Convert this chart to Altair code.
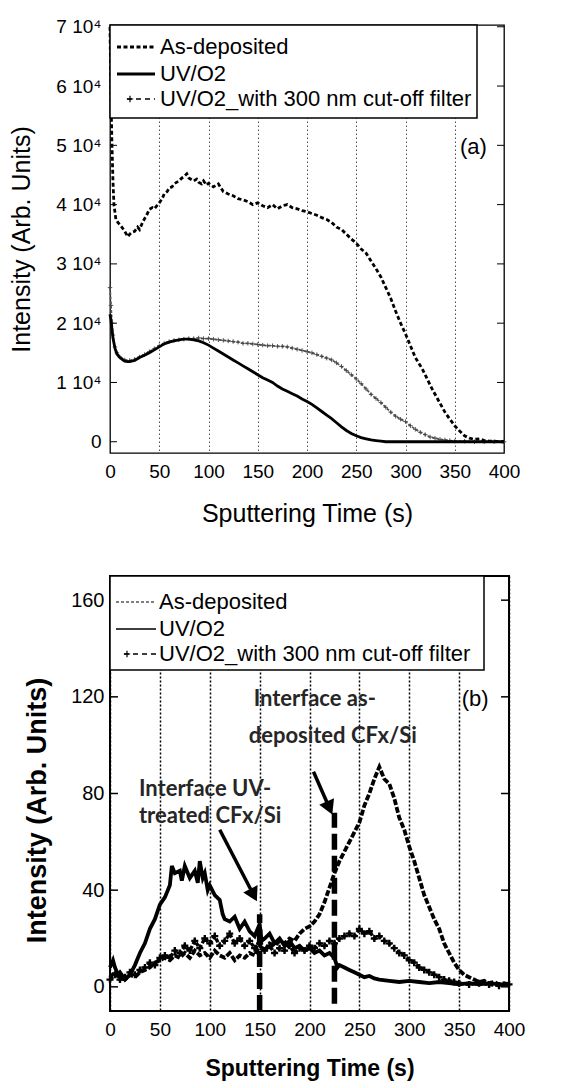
import math
import altair as alt
import pandas as pd

# ---------------- data ----------------
SERIES = ["As-deposited", "UV/O2", "UV/O2_with 300 nm cut-off filter"]
X_TICKS = [0, 50, 100, 150, 200, 250, 300, 350, 400]
A_Y_TICKS = [0, 1, 2, 3, 4, 5, 6, 7]          # units of 10^4
B_Y_TICKS = [0, 40, 80, 120, 160]

# panel (a): (time s, intensity x 10^4)
A_DEP = [(0,7.0),(1,5.8),(2,5.0),(3,4.4),(4,4.0),(6,3.75),(8,3.7),(10,3.66),(12,3.62),(15,3.55),(18,3.46),
         (20,3.5),(22,3.53),(25,3.55),(28,3.62),(30,3.58),(33,3.7),(35,3.76),(38,3.85),(40,3.92),(43,3.95),
         (45,3.93),(48,3.99),(50,4.03),(53,4.1),(55,4.18),(58,4.22),(60,4.28),(63,4.3),(65,4.35),(68,4.38),
         (70,4.4),(73,4.45),(75,4.47),(78,4.52),(80,4.45),(83,4.42),(85,4.4),(88,4.43),(90,4.38),(93,4.35),
         (95,4.4),(98,4.33),(100,4.36),(105,4.3),(110,4.35),(115,4.22),(120,4.18),(125,4.15),(130,4.1),
         (135,4.08),(140,4.05),(145,4.0),(150,4.03),(155,3.98),(160,3.95),(165,4.0),(170,3.93),(175,3.98),
         (180,4.0),(185,3.95),(190,3.93),(195,3.9),(200,3.88),(205,3.85),(210,3.82),(215,3.78),(220,3.75),
         (225,3.7),(230,3.62),(235,3.58),(240,3.5),(245,3.42),(250,3.35),(255,3.25),(260,3.18),(265,3.05),
         (270,2.92),(275,2.78),(280,2.6),(285,2.42),(290,2.2),(295,2.0),(300,1.82),(305,1.62),(310,1.42),
         (317,1.23),(327,0.89),(335,0.65),(340,0.5),(345,0.38),(350,0.27),(355,0.18),(360,0.1),(365,0.06),
         (370,0.04),(375,0.05),(380,0.02),(385,0.01),(390,0.01),(395,0.0),(400,0.0)]
A_UV = [(0,2.15),(1,2.05),(2,1.9),(3,1.75),(5,1.58),(7,1.48),(10,1.42),(13,1.38),(15,1.36),(18,1.35),
        (20,1.35),(25,1.37),(30,1.42),(35,1.46),(40,1.5),(45,1.55),(50,1.6),(55,1.65),(60,1.68),(65,1.7),
        (70,1.72),(75,1.73),(80,1.73),(85,1.72),(90,1.7),(95,1.67),(100,1.63),(105,1.58),(110,1.53),
        (115,1.48),(120,1.43),(125,1.38),(130,1.33),(135,1.28),(140,1.23),(145,1.18),(150,1.13),(155,1.08),
        (160,1.04),(165,1.0),(170,0.94),(175,0.89),(180,0.85),(185,0.81),(190,0.77),(195,0.72),(200,0.68),
        (205,0.63),(210,0.57),(215,0.51),(220,0.45),(225,0.39),(230,0.32),(235,0.25),(240,0.19),(245,0.14),
        (250,0.1),(255,0.07),(260,0.05),(265,0.03),(270,0.02),(275,0.01),(280,0.0),(300,0.0),(320,0.0),
        (340,0.0),(360,0.0),(380,0.0),(400,0.0)]
A_FIL = [(0,2.6),(1,2.3),(2,2.0),(3,1.8),(5,1.6),(7,1.5),(10,1.43),(15,1.38),(20,1.37),(25,1.39),(30,1.43),
         (35,1.47),(40,1.52),(45,1.57),(50,1.62),(55,1.66),(60,1.69),(65,1.71),(70,1.72),(75,1.73),(80,1.74),
         (85,1.74),(90,1.75),(95,1.74),(100,1.74),(105,1.73),(110,1.72),(115,1.71),(120,1.7),(125,1.69),
         (130,1.68),(135,1.66),(140,1.66),(145,1.65),(150,1.64),(155,1.63),(160,1.62),(165,1.62),(170,1.61),
         (175,1.61),(180,1.6),(185,1.58),(190,1.56),(195,1.54),(200,1.52),(205,1.5),(210,1.47),(215,1.44),
         (220,1.41),(225,1.38),(230,1.33),(235,1.27),(240,1.2),(245,1.13),(250,1.06),(255,0.98),(260,0.89),
         (265,0.8),(270,0.73),(275,0.66),(280,0.58),(285,0.5),(290,0.43),(295,0.38),(300,0.34),(305,0.27),
         (310,0.21),(315,0.16),(320,0.12),(325,0.08),(330,0.06),(335,0.04),(340,0.03),(345,0.02),(350,0.01),
         (360,0.01),(370,0.0),(380,0.0),(390,0.0),(400,0.0)]

# panel (b): (time s, intensity)
B_DEP = [(0,4),(5,6),(10,4),(15,3),(20,5),(25,4),(30,6),(35,7),(40,8),(45,10),(50,11),(55,12),(60,11),(65,13),
         (70,12),(75,14),(80,12),(85,15),(90,13),(95,14),(100,12),(105,15),(110,13),(115,12),(120,14),(125,11),
         (130,13),(135,12),(140,14),(145,13),(150,17),(155,15),(160,18),(165,17),(170,19),(175,18),(180,20),
         (185,19),(190,22),(195,24),(200,25),(205,27),(210,30),(215,35),(220,41),(225,47),(230,52),(235,56),
         (240,60),(245,64),(250,68),(255,75),(260,80),(265,86),(270,91),(273,88),(275,86),(280,84),(285,78),
         (290,70),(295,65),(300,58),(305,52),(310,45),(315,38),(320,33),(325,28),(330,24),(335,18),(340,14),
         (345,10),(350,7),(355,5),(360,4),(365,3),(370,2),(375,2.5),(380,1.5),(385,2),(390,1),(395,1.5),(400,1)]
B_UV = [(0,8),(3,11),(5,8),(8,5),(10,6),(15,3),(20,5),(25,9),(30,14),(35,18),(40,24),(45,28),(50,34),(55,37),
        (60,42),(62,50),(65,47),(70,48),(72,44),(75,50),(78,47),(80,45),(85,48),(88,43),(90,52),(93,45),(95,47),
        (98,40),(100,42),(105,38),(110,36),(113,30),(115,28),(120,27),(125,29),(130,24),(135,27),(140,23),
        (145,21),(150,26),(152,19),(155,20),(160,22),(165,18),(170,20),(175,17),(180,19),(185,16),(190,17),
        (195,15),(200,16),(205,14),(210,15),(215,13),(220,14),(225,12),(228,8),(230,9),(235,8),(240,7),(245,6),
        (250,5),(255,4),(260,4.5),(265,3.5),(270,3),(280,2.5),(290,2),(300,2.5),(310,2),(320,1.5),(330,2),
        (340,1.5),(350,1),(360,1.5),(370,1),(380,1.5),(390,1),(400,1)]
B_FIL = [(0,3),(5,5),(10,3),(15,4),(20,6),(25,5),(30,7),(35,8),(40,10),(45,9),(50,12),(55,13),(60,12),(65,15),
         (70,14),(75,17),(80,15),(85,19),(90,16),(95,20),(100,18),(105,21),(110,17),(115,19),(120,22),(125,18),
         (130,20),(135,17),(140,19),(145,16),(150,18),(155,15),(160,17),(165,14),(170,16),(175,15),(180,17),
         (185,14),(190,16),(195,15),(200,17),(205,16),(210,18),(215,17),(220,19),(225,18),(230,20),(235,21),
         (240,22),(245,21),(250,24),(255,22),(260,23),(265,20),(270,21),(275,19),(280,18),(285,16),(290,14),
         (295,13),(300,11),(305,10),(310,8),(315,7),(320,6),(325,5),(330,4),(335,3),(340,2.5),(345,2),(350,1.5),
         (360,1),(370,1.5),(380,1),(390,0.5),(400,1)]

# panel (b) annotations
B_IFACE_T = [150, 225]
B_IFACE_LO = [-10, -7]
B_IFACE_HI = [30, 72]
B_ARROW_X0 = [204, 110]
B_ARROW_Y0 = [89, 65]
B_ARROW_X1 = [220, 144]
B_ARROW_Y1 = [74, 38]
B_NOTE_TEXT = ["Interface as-", "deposited CFx/Si", "Interface UV-", "treated CFx/Si"]
B_NOTE_X = [144, 139, 29, 29]
B_NOTE_Y = [119, 104, 82, 70.5]
PANEL_LABELS = ["(a)", "(b)"]
PANEL_LABEL_X = [369, 366]
PANEL_LABEL_Y = [4.98, 119]

# ---------------- layout / style ----------------
WA, HA = 394, 428
WB, HB = 399, 435
A_YDOM = [-0.19, 7.03]
B_YDOM = [-10, 170]
FONT = "Liberation Sans"


def sdf(pairs):
    return pd.DataFrame({"t": [p[0] for p in pairs], "v": [p[1] for p in pairs]})


def legend(w, h, rows, x0, x1, fx0, tx, styles, fs):
    out = [alt.Chart(pd.DataFrame({"k": [0]})).mark_rect(
        fill="white", stroke="black", strokeWidth=1.5).encode(
        x=alt.value(0), x2=alt.value(w), y=alt.value(0), y2=alt.value(h))]
    for i, name in enumerate(SERIES):
        st = styles[i]
        start = fx0 if i == 2 else x0
        out.append(alt.Chart(pd.DataFrame({"k": [0]})).mark_rule(
            color="black", strokeWidth=st[0], strokeDash=st[1]).encode(
            x=alt.value(start), x2=alt.value(x1), y=alt.value(rows[i])))
        if i == 2:
            out.append(alt.Chart(pd.DataFrame({"k": [0]})).mark_point(
                shape="M-1,0L1,0M0,-1L0,1", filled=False, size=40, color="black", strokeWidth=1.2,
                opacity=1).encode(x=alt.value(start + 3), y=alt.value(rows[i])))
        out.append(alt.Chart(pd.DataFrame({"label": [name]})).mark_text(
            align="left", baseline="middle", fontSize=fs, font=FONT, color="black").encode(
            x=alt.value(tx), y=alt.value(rows[i]), text="label:N"))
    return out


# ---------------- panel (a) ----------------
xa = alt.X("t:Q", scale=alt.Scale(domain=[0, 400], nice=False, zero=False),
           axis=alt.Axis(values=X_TICKS, title="Sputtering Time (s)", grid=True, gridDash=[1.5, 2.5],
                         gridColor="#222", gridWidth=0.8, ticks=False, domain=False, labelFontSize=19,
                         labelFlush=False, labelOverlap=False,
                         labelPadding=9, titleFontSize=25, titlePadding=20, labelFont=FONT, titleFont=FONT,
                         titleFontWeight="normal", labelColor="black", titleColor="black"))
ya = alt.Y("v:Q", scale=alt.Scale(domain=A_YDOM, nice=False, zero=False),
           axis=alt.Axis(values=A_Y_TICKS, labelExpr="datum.value == 0 ? '0' : datum.value + ' 10\u2074'",
                         title="Intensity (Arb. Units)", grid=False, ticks=False, domain=False,
                         labelFontSize=19, labelPadding=9, titleFontSize=25, titlePadding=21,
                         labelFont=FONT, titleFont=FONT, titleFontWeight="normal",
                         labelColor="black", titleColor="black"))

a_layers = []
a_layers.append(alt.Chart(sdf(A_FIL)).mark_line(color="#555", strokeWidth=1.8, strokeDash=[3, 1.5]).encode(x=xa, y=ya))
a_layers.append(alt.Chart(sdf(A_FIL)).mark_point(shape="M-1,0L1,0M0,-1L0,1", filled=False, size=20,
                                               color="#444", strokeWidth=0.9, opacity=1).encode(x=xa, y=ya))
a_layers.append(alt.Chart(sdf(A_UV)).mark_line(color="black", strokeWidth=2.8).encode(x=xa, y=ya))
a_layers.append(alt.Chart(sdf(A_DEP)).mark_line(color="black", strokeWidth=2.8, strokeDash=[4, 2.5]).encode(x=xa, y=ya))
tick_a = pd.DataFrame({"v": A_Y_TICKS})
a_layers.append(alt.Chart(tick_a).mark_rule(color="black", strokeWidth=1).encode(y=ya, x=alt.value(0), x2=alt.value(7)))
a_layers.append(alt.Chart(tick_a).mark_rule(color="black", strokeWidth=1).encode(y=ya, x=alt.value(WA - 7), x2=alt.value(WA)))
a_layers.append(alt.Chart(pd.DataFrame({"t": [PANEL_LABEL_X[0]], "v": [PANEL_LABEL_Y[0]], "l": [PANEL_LABELS[0]]}))
                .mark_text(fontSize=22, font=FONT, color="black").encode(x=xa, y=ya, text="l:N"))
a_layers += legend(367, 93, [22, 49, 74], 7, 45, 17, 50, [(2.8, [4, 2.5]), (2.8, [1, 0]), (1.5, [5, 4])], 22)

chart_a = alt.layer(*a_layers).properties(width=WA, height=HA,
                                          view=alt.ViewBackground(stroke="black", strokeWidth=1.3))

# ---------------- panel (b) ----------------
xb = alt.X("t:Q", scale=alt.Scale(domain=[0, 400], nice=False, zero=False),
           axis=alt.Axis(values=X_TICKS, title="Sputtering Time (s)", grid=True, gridDash=[2, 2],
                         gridColor="black", gridWidth=1.5, ticks=False, domain=False, labelFontSize=19,
                         labelFlush=False, labelOverlap=False,
                         labelPadding=9, titleFontSize=23, titlePadding=18, labelFont=FONT, titleFont=FONT,
                         titleFontWeight="bold", labelColor="black", titleColor="black"))
yb = alt.Y("v:Q", scale=alt.Scale(domain=B_YDOM, nice=False, zero=False),
           axis=alt.Axis(values=B_Y_TICKS, title="Intensity (Arb. Units)", grid=False, ticks=False, domain=False,
                         labelFontSize=20, labelPadding=6, titleFontSize=27, titlePadding=19,
                         labelFont=FONT, titleFont=FONT, titleFontWeight="bold", titleY=234,
                         labelColor="black", titleColor="black"))

b_layers = []
b_layers.append(alt.Chart(sdf(B_FIL)).mark_line(color="black", strokeWidth=3.4, strokeDash=[4, 2]).encode(x=xb, y=yb))
b_layers.append(alt.Chart(sdf(B_FIL)).mark_point(shape="M-1,0L1,0M0,-1L0,1", filled=False, size=50,
                                               color="black", strokeWidth=2.4, opacity=1).encode(x=xb, y=yb))
b_layers.append(alt.Chart(sdf(B_UV)).mark_line(color="black", strokeWidth=3.8).encode(x=xb, y=yb))
b_layers.append(alt.Chart(sdf(B_DEP)).mark_line(color="black", strokeWidth=3.8, strokeDash=[6, 2]).encode(x=xb, y=yb))

iface = pd.DataFrame({"t": B_IFACE_T, "v": B_IFACE_LO, "v2": B_IFACE_HI})
b_layers.append(alt.Chart(iface).mark_rule(color="black", strokeWidth=5.5, strokeDash=[16, 6]).encode(
    x=xb, y=yb, y2="v2:Q"))

arrows = pd.DataFrame({"t": B_ARROW_X0, "v": B_ARROW_Y0, "t2": B_ARROW_X1, "v2": B_ARROW_Y1})
b_layers.append(alt.Chart(arrows).mark_rule(color="black", strokeWidth=3.5).encode(
    x=xb, y=yb, x2="t2:Q", y2="v2:Q"))
pxx = WB / 400.0
pxy = HB / (B_YDOM[1] - B_YDOM[0])
for i in range(len(B_ARROW_X0)):
    dx = (B_ARROW_X1[i] - B_ARROW_X0[i]) * pxx
    dy = -(B_ARROW_Y1[i] - B_ARROW_Y0[i]) * pxy
    ang = math.degrees(math.atan2(-dx, dy)) % 360
    head = pd.DataFrame({"t": [B_ARROW_X1[i]], "v": [B_ARROW_Y1[i]]})
    b_layers.append(alt.Chart(head).mark_point(shape="triangle-down", filled=True, size=260, color="black",
                                               opacity=1, angle=ang).encode(x=xb, y=yb))

notes = pd.DataFrame({"t": B_NOTE_X, "v": B_NOTE_Y, "txt": B_NOTE_TEXT})
b_layers.append(alt.Chart(notes).mark_text(align="left", baseline="middle", fontSize=22, font="Lato",
                                           fontWeight="bold", color="#262626").encode(x=xb, y=yb, text="txt:N"))
tick_b = pd.DataFrame({"v": B_Y_TICKS})
b_layers.append(alt.Chart(tick_b).mark_rule(color="black", strokeWidth=1.5).encode(y=yb, x=alt.value(0), x2=alt.value(8)))
b_layers.append(alt.Chart(tick_b).mark_rule(color="black", strokeWidth=1.5).encode(y=yb, x=alt.value(WB - 8), x2=alt.value(WB)))
b_layers.append(alt.Chart(pd.DataFrame({"t": [PANEL_LABEL_X[1]], "v": [PANEL_LABEL_Y[1]], "l": [PANEL_LABELS[1]]}))
                .mark_text(fontSize=22, font=FONT, color="black").encode(x=xb, y=yb, text="l:N"))
b_layers += legend(374, 94, [26, 53, 78], 6, 46, 14, 49, [(1.2, [3, 2]), (1.5, [1, 0]), (1.5, [5, 4])], 22)

chart_b = alt.layer(*b_layers).properties(width=WB, height=HB,
                                          view=alt.ViewBackground(stroke="black", strokeWidth=2))

chart = alt.vconcat(chart_a, chart_b, spacing=47).properties(
    padding={"top": 9, "left": 1, "right": 5, "bottom": 0}
).configure(font=FONT)

chart.save("out.html", embed_options={"renderer": "svg", "actions": False})
